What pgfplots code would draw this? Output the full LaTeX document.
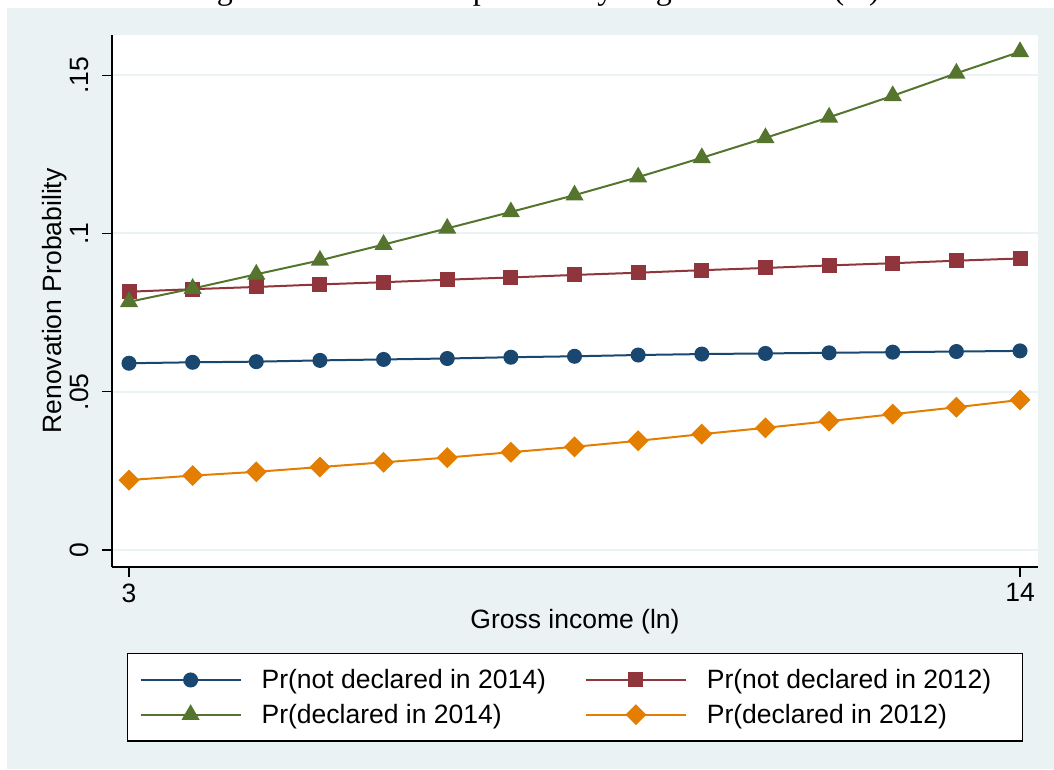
\documentclass[border=0pt]{standalone}
\usepackage{fontspec}
\setmainfont{Liberation Sans}
\newfontfamily\captionserif{Liberation Serif}
\usepackage{pgfplots}
\usepackage{pgfplotstable}
\pgfplotsset{compat=1.18}

% Stata s2color palette
\definecolor{stnavy}{RGB}{26,71,111}
\definecolor{stmaroon}{RGB}{144,53,59}
\definecolor{stgreen}{RGB}{85,117,47}
\definecolor{storange}{RGB}{227,126,0}
\definecolor{stbg}{RGB}{234,242,243}

% predicted probabilities over log gross income
\pgfplotstableread{
x        nd14    nd12    d14     d12
3.0000   0.0590  0.0816  0.0784  0.0221
3.7857   0.0593  0.0824  0.0826  0.0235
4.5714   0.0595  0.0831  0.0871  0.0247
5.3571   0.0599  0.0839  0.0915  0.0262
6.1429   0.0602  0.0846  0.0965  0.0277
6.9286   0.0605  0.0854  0.1016  0.0292
7.7143   0.0609  0.0861  0.1068  0.0309
8.5000   0.0612  0.0869  0.1121  0.0326
9.2857   0.0616  0.0876  0.1178  0.0345
10.0714  0.0619  0.0884  0.1239  0.0366
10.8571  0.0621  0.0891  0.1302  0.0386
11.6429  0.0623  0.0899  0.1367  0.0407
12.4286  0.0625  0.0906  0.1435  0.0429
13.2143  0.0627  0.0914  0.1506  0.0451
14.0000  0.0629  0.0921  0.1574  0.0474
}\probtable

\newcommand{\chartfont}{\fontsize{26.5}{31}\selectfont}

\begin{document}
\begin{tikzpicture}[x=1pt,y=1pt]
\useasboundingbox (0,0) rectangle (1054,769);
\fill[white] (0,0) rectangle (1054,769);
\fill[stbg] (7,0) rectangle (1054,761);
\begin{scope}
\clip (0,0) rectangle (1054,769);
\node[font=\captionserif\fontsize{32}{36}\selectfont, anchor=base, inner sep=0pt]
  at (535,769) {Figure 4: Renovation probability of gross income (ln)};
\end{scope}

\begin{axis}[
  at={(112pt,202pt)}, anchor=south west,
  scale only axis, width=926pt, height=532pt,
  xmin=2.790, xmax=14.222,
  ymin=-0.00537, ymax=0.1627,
  axis x line=bottom, axis y line=left,
  axis line style={-, black, line width=1.2pt},
  axis background/.style={fill=white},
  xtick={3,14},
  ytick={0,0.05,0.1,0.15},
  yticklabels={0,.05,.1,.15},
  /pgf/number format/assume math mode=true,
  tick align=outside,
  major tick length=10pt,
  tick style={black, line width=1.2pt},
  every tick label/.append style={font=\chartfont},
  yticklabel style={rotate=90, anchor=south},
  yticklabel shift=10pt,
  xticklabel shift=3pt,
  ymajorgrids,
  grid style={stbg, line width=2pt},
  xlabel={Gross income (ln)},
  ylabel={Renovation Probability},
  xlabel style={font=\chartfont, at={(axis description cs:0.5,-0.1034)}, anchor=center},
  ylabel style={font=\chartfont, at={(axis description cs:-0.0616,0.5)}, anchor=center, rotate=0},
  legend columns=2,
  legend cell align=left,
  legend style={
    at={(0.0162,-0.1617)}, anchor=north west,
    draw=black, line width=1.2pt, fill=white,
    font=\chartfont,
    inner xsep=12pt, inner ysep=14pt,
    row sep=10pt,
    /tikz/every odd column/.append style={column sep=18pt},
    /tikz/every even column/.append style={column sep=37pt},
  },
  legend image code/.code={
    \draw[mark repeat=2, mark phase=2] plot coordinates {(0pt,0pt) (50pt,0pt) (100pt,0pt)};
  },
  every axis plot/.append style={line width=2pt},
  clip=false,
]
\addplot[stnavy, mark=*, mark size=6.5pt, mark options={solid, fill=stnavy, draw=stnavy}]
  table[x=x, y=nd14] {\probtable};
\addlegendentry{Pr(not declared in 2014)}
\addplot[stmaroon, mark=square*, mark size=6.5pt, mark options={solid, fill=stmaroon, draw=stmaroon}]
  table[x=x, y=nd12] {\probtable};
\addlegendentry{Pr(not declared in 2012)\hspace*{17pt}}
\addplot[stgreen, mark=triangle*, mark size=8.5pt, mark options={solid, fill=stgreen, draw=stgreen}]
  table[x=x, y=d14] {\probtable};
\addlegendentry{Pr(declared in 2014)}
\addplot[storange, mark=square*, mark size=6.4pt, mark options={solid, rotate=45, fill=storange, draw=storange}]
  table[x=x, y=d12] {\probtable};
\addlegendentry{Pr(declared in 2012)}
\end{axis}
\end{tikzpicture}
\end{document}
